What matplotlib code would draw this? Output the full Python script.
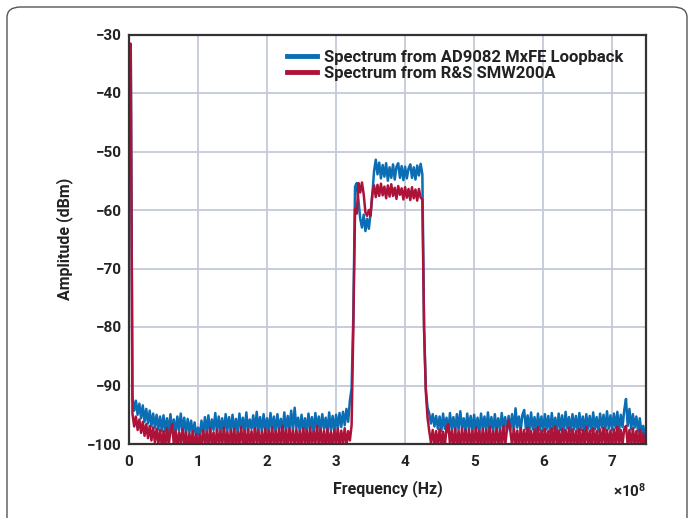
import matplotlib
matplotlib.use("Agg")
import matplotlib.pyplot as plt
from matplotlib.patches import FancyBboxPatch
from matplotlib.ticker import FuncFormatter
import numpy as np

plt.rcParams['font.family'] = ['Roboto', 'DejaVu Sans']
plt.rcParams['mathtext.fontset'] = 'custom'
plt.rcParams['mathtext.rm'] = 'Roboto'
plt.rcParams['mathtext.bf'] = 'Roboto:bold'

# frequency axis, one sample every 2.5 MHz from 0 to 750 MHz
freq_hz = np.arange(301) * 2.5e6

# spectrum from AD9082 MxFE loopback (dBm)
mxfe_dbm = [
    -31.5, -31.8, -92.0, -94.3, -92.6, -95.0, -93.1, -95.6, -93.4, -96.2, -94.0, -96.5, -94.3, -97.0, -94.8, -97.2, -95.0, -97.5, -95.3, -97.8,
    -95.1, -97.9, -95.6, -98.1, -94.9, -97.6, -95.8, -98.2, -95.3, -97.7, -94.8, -97.9, -95.5, -98.3, -95.7, -98.0, -96.0, -98.4, -96.3, -98.6,
    -97.2, -98.8, -96.0, -98.3, -95.4, -97.9, -95.1, -98.1, -95.8, -97.6, -94.7, -98.0, -95.3, -97.8, -95.6, -98.2, -94.9, -97.7, -95.4, -98.0,
    -95.0, -97.8, -95.7, -98.1, -94.8, -97.5, -95.5, -98.0, -94.6, -97.9, -95.8, -97.4, -95.1, -98.2, -94.5, -97.6, -95.4, -98.0, -94.9, -97.7,
    -95.6, -98.0, -94.7, -97.6, -95.3, -98.1, -94.9, -97.5, -95.7, -97.9, -94.6, -98.0, -95.2, -97.4, -94.3, -97.8, -93.8, -97.3, -95.5, -98.0,
    -95.0, -97.7, -95.6, -98.1, -94.8, -97.5, -95.4, -98.0, -94.7, -97.6, -95.3, -97.9, -94.9, -97.4, -95.5, -98.1, -94.6, -97.7, -95.2, -97.9,
    -95.0, -97.4, -94.7, -97.1, -94.5, -96.8, -94.0, -96.2, -92.6, -90.5, -78.0, -56.0, -55.4, -58.5, -61.5, -63.0, -60.8, -63.6, -61.5, -63.2,
    -60.5, -57.5, -53.4, -51.4, -53.9, -51.9, -54.6, -52.3, -54.3, -52.0, -55.0, -52.7, -54.5, -52.2, -54.8, -52.6, -52.0, -54.5, -52.5, -54.9,
    -52.6, -54.6, -52.9, -52.2, -54.5, -52.7, -54.8, -52.4, -54.1, -52.1, -53.9, -80.0, -90.5, -93.8, -94.8, -96.5, -94.9, -97.0, -95.2, -97.4,
    -95.3, -97.8, -94.8, -97.4, -95.5, -98.0, -94.7, -97.5, -95.4, -97.9, -94.9, -97.6, -94.4, -97.3, -95.6, -98.0, -94.8, -97.5, -95.2, -97.9,
    -95.0, -97.6, -95.5, -98.1, -94.8, -97.4, -95.3, -97.9, -94.6, -97.7, -95.4, -98.0, -94.9, -97.5, -95.6, -97.8, -94.7, -97.3, -95.4, -97.9,
    -95.2, -97.6, -94.9, -97.8, -93.9, -97.2, -95.3, -97.7, -95.0, -94.2, -97.4, -95.1, -97.9, -94.6, -97.5, -95.4, -98.0, -94.8, -97.6, -95.3,
    -97.8, -94.9, -97.5, -95.2, -98.0, -94.7, -97.4, -95.5, -97.9, -94.8, -97.6, -95.1, -98.1, -94.5, -97.3, -95.4, -97.8, -94.9, -97.5, -95.2,
    -97.9, -94.7, -97.6, -95.3, -98.0, -94.9, -97.4, -95.2, -97.8, -94.6, -97.5, -95.4, -97.9, -94.8, -97.2, -95.0, -97.7, -94.4, -97.4, -95.1,
    -97.6, -94.8, -97.3, -94.5, -97.8, -95.0, -97.1, -94.2, -92.3, -96.9, -94.0, -97.5, -94.9, -97.2, -95.3, -97.9, -95.6, -98.3, -96.9, -98.8,
    -98.2,
]

# spectrum from R&S SMW200A (dBm)
smw_dbm = [
    -31.5, -31.6, -94.8, -97.0, -95.3, -97.6, -95.8, -98.1, -96.2, -98.6, -96.6, -99.0, -96.9, -99.4, -97.2, -99.7, -97.4, -100.0, -97.6, -100.3,
    -97.8, -100.4, -97.3, -100.1, -97.9, -96.6, -100.2, -97.7, -100.5, -98.0, -99.9, -97.4, -100.3, -97.9, -100.6, -98.2, -100.2, -97.8, -100.6, -98.3,
    -100.7, -98.4, -100.2, -97.6, -100.0, -97.9, -100.4, -97.3, -100.1, -98.0, -100.5, -97.5, -99.9, -97.8, -100.3, -97.2, -100.1, -97.9, -100.4, -97.6,
    -100.2, -97.4, -100.5, -97.9, -100.0, -97.1, -100.3, -97.7, -100.6, -97.5, -100.1, -97.8, -100.4, -97.3, -99.9, -97.6, -100.5, -97.9, -100.2, -97.4,
    -100.3, -97.7, -100.1, -97.2, -100.5, -97.8, -100.0, -97.4, -100.4, -96.9, -100.2, -97.6, -100.5, -97.3, -99.9, -97.7, -100.3, -97.5, -100.1, -97.8,
    -100.4, -97.3, -100.0, -97.6, -100.5, -97.2, -100.2, -97.8, -100.0, -96.9, -100.4, -97.5, -100.1, -97.7, -100.5, -97.4, -100.2, -97.9, -100.3, -97.6,
    -100.1, -97.4, -100.4, -97.7, -100.0, -97.3, -100.3, -97.8, -99.4, -96.8, -80.0, -59.8, -60.6, -55.4, -57.0, -55.3, -57.3, -60.4, -61.0, -60.0,
    -61.0, -57.2, -55.8, -57.8, -55.7, -57.6, -55.5, -57.5, -56.0, -58.0, -55.8, -57.7, -55.6, -57.6, -56.2, -58.1, -55.9, -57.4, -56.3, -58.2,
    -56.1, -57.9, -56.4, -58.3, -56.1, -58.0, -56.5, -58.4, -56.4, -57.9, -58.2, -80.5, -91.0, -95.5, -97.8, -99.8, -97.6, -100.2, -97.8, -100.4,
    -97.5, -100.1, -97.9, -100.5, -97.2, -96.6, -100.0, -97.7, -100.4, -97.4, -100.2, -97.8, -100.5, -97.3, -100.0, -97.6, -100.3, -97.5, -100.1, -97.8,
    -100.4, -97.2, -100.0, -97.7, -100.5, -97.4, -100.2, -97.6, -100.3, -97.1, -100.5, -97.8, -100.0, -97.3, -100.4, -97.6, -100.1, -96.9, -100.3, -97.5,
    -95.9, -97.8, -100.2, -97.4, -100.0, -97.7, -100.5, -97.3, -100.1, -97.6, -100.4, -97.2, -100.0, -97.8, -100.3, -97.5, -100.1, -97.1, -100.4, -97.7,
    -100.2, -97.4, -100.0, -97.8, -100.5, -97.3, -100.1, -97.0, -100.3, -97.7, -100.5, -97.4, -100.0, -97.6, -100.2, -97.2, -100.4, -97.5, -100.1, -97.8,
    -100.3, -97.4, -100.5, -97.6, -100.0, -97.1, -100.2, -97.7, -100.4, -97.3, -100.1, -97.8, -100.5, -97.5, -100.0, -97.2, -100.3, -97.6, -100.2, -97.7,
    -100.4, -97.5, -100.1, -97.0, -100.3, -97.6, -100.0, -97.4, -96.9, -100.2, -97.6, -100.5, -97.3, -100.1, -97.8, -100.4, -97.6, -100.3, -98.2, -100.5,
    -99.5,
]

labels = ["Spectrum from AD9082 MxFE Loopback", "Spectrum from R&S SMW200A"]
colors = ["#0b6db3", "#ad1339"]

fig = plt.figure(figsize=(6.9, 5.18), dpi=100)
# rounded outer frame
fig.patches.append(FancyBboxPatch((7 / 690, -0.05), 680 / 690, 1.05 - 7 / 518,
                                  boxstyle="round,pad=0,rounding_size=0.02",
                                  transform=fig.transFigure, fill=False,
                                  edgecolor="#555555", linewidth=1.0))

ax = fig.add_axes([129 / 690, (518 - 444) / 518, 517 / 690, 409.5 / 518])

ax.plot(freq_hz, mxfe_dbm, color=colors[0], linewidth=1.8, label=labels[0])
ax.plot(freq_hz, smw_dbm, color=colors[1], linewidth=1.8, label=labels[1])

ax.set_xlim(0, 7.49e8)
ax.set_ylim(-100, -30)
ax.set_xticks(np.arange(0, 8) * 1e8)
ax.set_yticks(np.arange(-100, -29, 10))
ax.xaxis.set_major_formatter(FuncFormatter(lambda v, p: f"{v / 1e8:g}"))

ax.grid(True, color="#c3cad8", linewidth=1.3)
ax.set_axisbelow(True)
for s in ax.spines.values():
    s.set_color("#333333")
    s.set_linewidth(1.6)

ax.tick_params(axis="both", length=0, labelsize=11, colors="#222222")
ax.tick_params(axis="x", pad=8)
ax.tick_params(axis="y", pad=5)
for t in ax.get_xticklabels() + ax.get_yticklabels():
    t.set_fontweight("bold")

ax.set_xlabel("Frequency (Hz)", fontsize=11.5, fontweight="bold", color="#222222", labelpad=8)
ax.set_ylabel("Amplitude (dBm)", fontsize=11.5, fontweight="bold", color="#222222", labelpad=10)
ax.text(1.0, -0.115, r"$\mathbf{\times 10^{8}}$", transform=ax.transAxes,
        ha="right", va="center", fontsize=11, color="#222222")

leg = ax.legend(loc="upper left", bbox_to_anchor=(0.3056, 0.962), frameon=False,
                borderpad=0, borderaxespad=0, handlelength=1.8, handletextpad=0.4,
                labelspacing=0.05, prop={"size": 12, "weight": "bold"})
for line in leg.get_lines():
    line.set_linewidth(3.5)
for t in leg.get_texts():
    t.set_color("#222222")

fig.savefig("out.png", dpi=100)
